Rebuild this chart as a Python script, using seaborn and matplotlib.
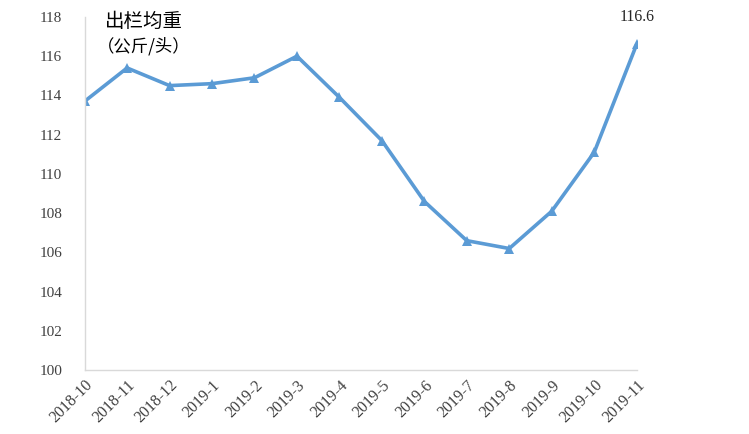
import numpy as np
import pandas as pd
import seaborn as sns
import matplotlib.pyplot as plt

# dati
months = ['2018-10', '2018-11', '2018-12', '2019-1', '2019-2', '2019-3', '2019-4',
          '2019-5', '2019-6', '2019-7', '2019-8', '2019-9', '2019-10', '2019-11']
weight = [113.7, 115.4, 114.5, 114.6, 114.9, 116.0, 113.9,
          111.7, 108.6, 106.6, 106.2, 108.1, 111.1, 116.6]

df = pd.DataFrame({'idx': np.arange(len(months)), 'weight': weight})

sns.set_style("white")
plt.rcParams['font.family'] = ['Liberation Serif', 'Noto Sans CJK SC', 'DejaVu Sans']

fig = plt.figure(figsize=(7.49, 4.34), dpi=100)
ax = fig.add_axes([0.113, 0.147, 0.737, 0.814])

sns.lineplot(data=df, x='idx', y='weight', ax=ax, color='#5B9BD5', linewidth=2.6,
             marker='^', markersize=7, markeredgewidth=0, sort=False)

ax.set_xlim(0, len(months) - 1)
ax.set_ylim(100, 118)
ax.set_yticks(np.arange(100, 119, 2))
ax.set_xticks(df['idx'])
ax.set_xticklabels(months, rotation=45, ha='right', rotation_mode='anchor')
ax.tick_params(axis='x', direction='in', length=4, color='#D9D9D9', labelsize=11.5,
               labelcolor='#404040', pad=5)
ax.tick_params(axis='y', length=0, labelsize=11, labelcolor='#404040', pad=16)
ax.set_xlabel('')
ax.set_ylabel('')

for s in ['top', 'right']:
    ax.spines[s].set_visible(False)
for s in ['left', 'bottom']:
    ax.spines[s].set_color('#D9D9D9')
    ax.spines[s].set_linewidth(1)

# titolo dentro il grafico
fig.text(0.192, 0.950, '出栏均重', fontsize=14, family=['Noto Sans CJK SC'],
         fontweight='medium', ha='center', va='center', color='black')
fig.text(0.192, 0.893, '（公斤/头）', fontsize=12.5, family=['Noto Sans CJK SC'],
         ha='center', va='center', color='black')

# etichetta ultimo valore
ax.annotate(f'{weight[-1]:.1f}', xy=(len(months) - 1, weight[-1]), xytext=(0, 14),
            textcoords='offset points', ha='center', va='bottom', fontsize=11.5,
            color='#262626', annotation_clip=False)

fig.savefig('out.png', dpi=100)
